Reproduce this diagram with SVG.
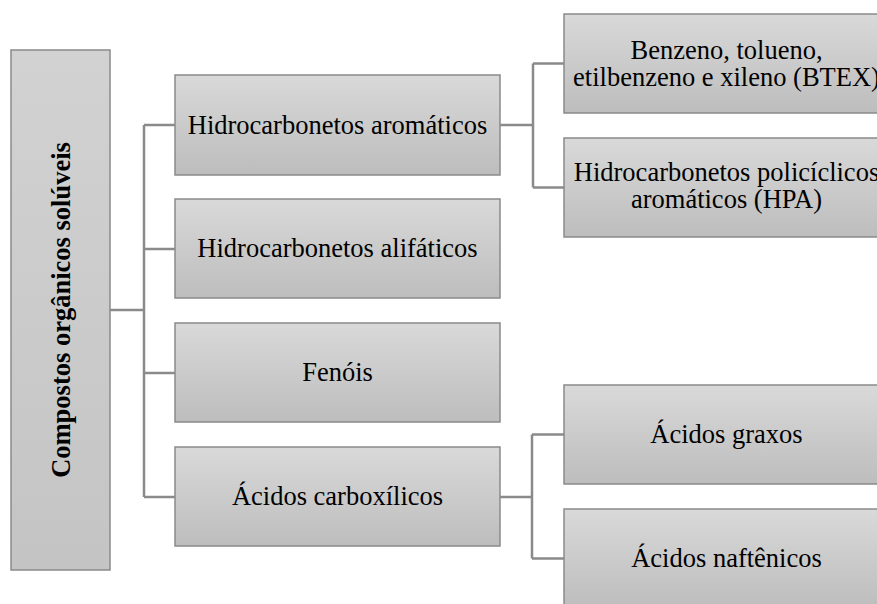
<svg xmlns="http://www.w3.org/2000/svg" width="877" height="604" viewBox="0 0 877 604">
<defs>
<linearGradient id="g" x1="0" y1="0" x2="0" y2="1">
<stop offset="0" stop-color="#d9d9d9"/>
<stop offset="1" stop-color="#bdbdbd"/>
</linearGradient>
<linearGradient id="gr" x1="0" y1="0" x2="0" y2="1">
<stop offset="0" stop-color="#d2d2d2"/>
<stop offset="1" stop-color="#c4c4c4"/>
</linearGradient>
<style>
.box{fill:url(#g);stroke:#8a8a8a;stroke-width:1.5}
.root{fill:url(#gr);stroke:#8a8a8a;stroke-width:1.5}
.t{font-family:"Liberation Serif","Times New Roman",serif;font-size:26.5px;fill:#000;text-anchor:middle}
.rt{font-family:"Liberation Serif","Times New Roman",serif;font-size:26.5px;font-weight:bold;fill:#000;text-anchor:middle}
.c{fill:none;stroke:#8a8a8a;stroke-width:2.5}
</style>
</defs>
<rect width="877" height="604" fill="#ffffff"/>
<g id="connectors">
<path class="c" d="M110 310H144M144 125V497M144 125H175M144 249H175M144 373H175M144 497H175"/>
<path class="c" d="M500 125H533M533 63.5V187.5M533 63.5H564M533 187.5H564"/>
<path class="c" d="M500 497H532M532 434.5V558.5M532 434.5H564M532 558.5H564"/>
</g>
<g id="root">
<rect class="root" x="11" y="50" width="99" height="520"/>
<text class="rt" transform="translate(70,310) rotate(-90)">Compostos orgânicos solúveis</text>
</g>
<g id="aromaticos">
<rect class="box" x="175" y="75" width="325" height="100"/>
<text class="t" x="337.5" y="134">Hidrocarbonetos aromáticos</text>
</g>
<g id="alifaticos">
<rect class="box" x="175" y="199" width="325" height="99"/>
<text class="t" x="337.5" y="257">Hidrocarbonetos alifáticos</text>
</g>
<g id="fenois">
<rect class="box" x="175" y="323" width="325" height="99"/>
<text class="t" x="337.5" y="381">Fenóis</text>
</g>
<g id="carboxilicos">
<rect class="box" x="175" y="447" width="325" height="99"/>
<text class="t" x="337.5" y="505">Ácidos carboxílicos</text>
</g>
<g id="btex">
<rect class="box" x="564" y="14" width="325" height="99"/>
<text class="t" x="726.5" y="58.5">Benzeno, tolueno,</text>
<text class="t" x="726.5" y="86">etilbenzeno e xileno (BTEX)</text>
</g>
<g id="hpa">
<rect class="box" x="564" y="138" width="325" height="99"/>
<text class="t" x="726.5" y="181">Hidrocarbonetos policíclicos</text>
<text class="t" x="726.5" y="208">aromáticos (HPA)</text>
</g>
<g id="graxos">
<rect class="box" x="564" y="385" width="325" height="99"/>
<text class="t" x="726.5" y="443">Ácidos graxos</text>
</g>
<g id="naftenicos">
<rect class="box" x="564" y="509" width="325" height="99"/>
<text class="t" x="726.5" y="567">Ácidos naftênicos</text>
</g>
</svg>
